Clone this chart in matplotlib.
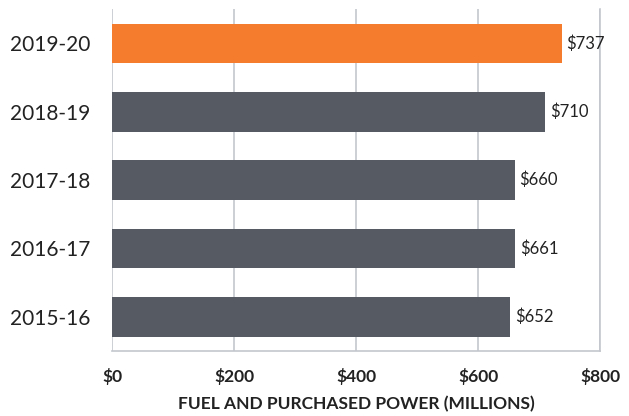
import matplotlib
matplotlib.use("Agg")
import matplotlib.pyplot as plt

categories = ["2015-16", "2016-17", "2017-18", "2018-19", "2019-20"]
values = [652, 661, 660, 710, 737]
value_labels = ["$652", "$661", "$660", "$710", "$737"]
tick_values = [0, 200, 400, 600, 800]
tick_labels = ["$0", "$200", "$400", "$600", "$800"]
xlabel = "FUEL AND PURCHASED POWER (MILLIONS)"

orange = "#F47C2C"
gray = "#555A63"
grid_c = "#C3C7CD"

plt.rcParams['font.family'] = ['Lato', 'DejaVu Sans']

fig = plt.figure(figsize=(6.29, 4.16), dpi=100)
ax = fig.add_axes([112.3/629, (416-351)/416, (600-112.3)/629, (351-9.3)/416])

colors = [gray] * (len(values) - 1) + [orange]
ypos = list(range(len(categories)))
ax.barh(ypos, values, height=0.58, color=colors, zorder=3)

for y, v, lab in zip(ypos, values, value_labels):
    ax.text(v + 8, y, lab, va="center", ha="left", fontsize=12, color="#222222")

ax.set_xlim(0, 800)
ax.set_ylim(-0.5, 4.5)
ax.set_xticks(tick_values)
ax.set_xticklabels(tick_labels, fontsize=12.5, fontweight="bold", color="#222222")
ax.set_yticks(ypos)
ax.set_yticklabels(categories, fontsize=15, color="#222222")
ax.tick_params(axis="both", length=0)
ax.tick_params(axis="x", pad=12)
ax.tick_params(axis="y", pad=16)
ax.xaxis.grid(True, color=grid_c, linewidth=1.2, zorder=0)

for s in ["top", "left"]:
    ax.spines[s].set_visible(False)
for s in ["bottom", "right"]:
    ax.spines[s].set_color(grid_c)
    ax.spines[s].set_linewidth(1.2)

ax.set_xlabel(xlabel, fontsize=12.5, fontweight="bold", color="#222222", labelpad=8)

fig.savefig("out.png", dpi=100)
